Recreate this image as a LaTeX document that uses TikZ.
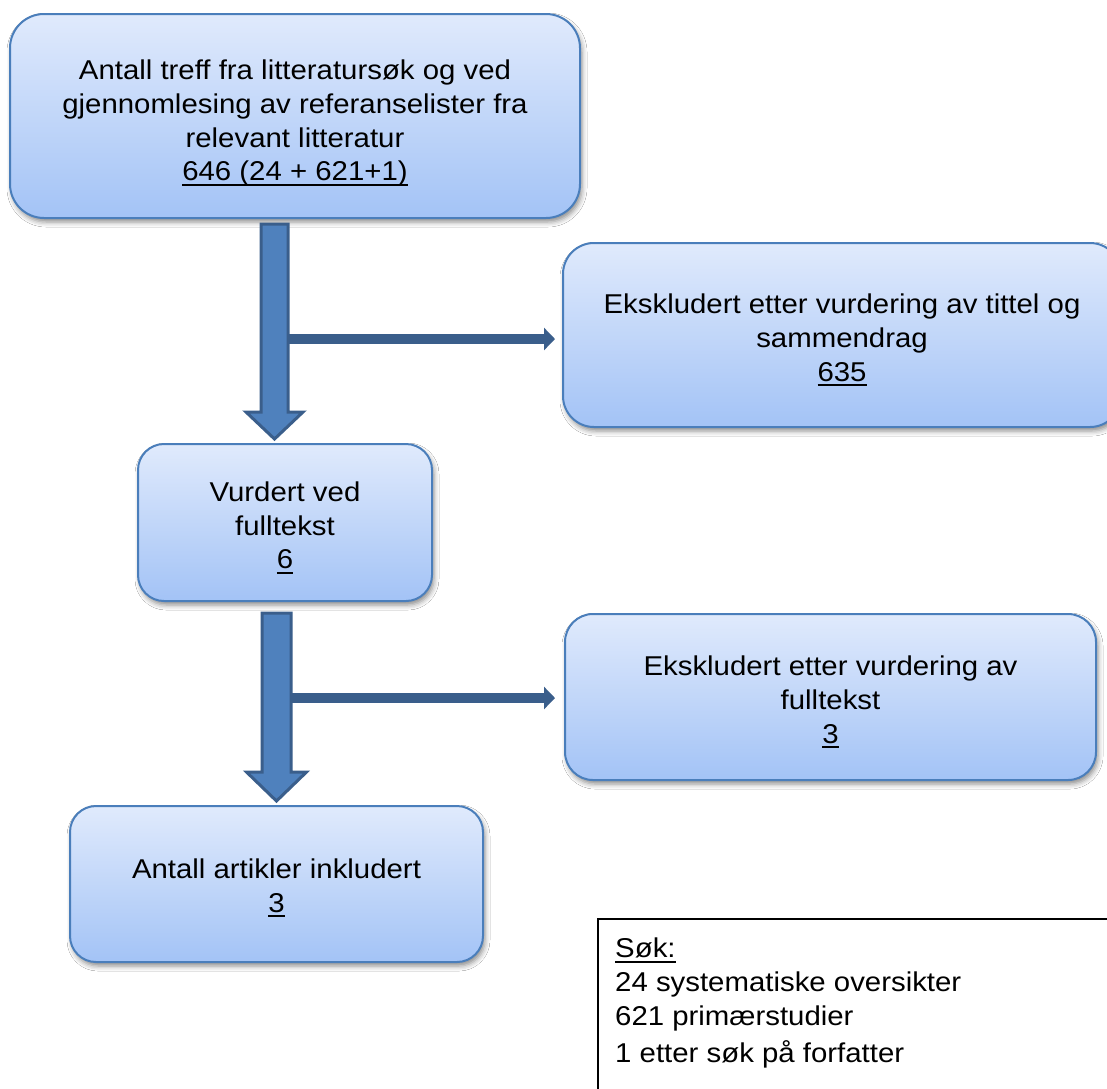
\documentclass[tikz,border=0pt]{standalone}
\usepackage{fontspec}
\setmainfont{Liberation Sans}[FakeStretch=1.08]
\usetikzlibrary{shadows.blur,arrows.meta,calc}
\definecolor{boxtop}{RGB}{224,234,252}
\definecolor{boxbot}{RGB}{163,195,246}
\definecolor{boxline}{RGB}{74,126,187}
\definecolor{arrfill}{RGB}{79,129,189}
\definecolor{arrline}{RGB}{58,94,139}
\newcommand\myul[1]{\setbox0\hbox{#1}\rlap{\rule[-5pt]{\wd0}{2.2pt}}\box0}
\newcommand\topgap[1]{\rule{0pt}{#1}}
\begin{document}
\begin{tikzpicture}[x=1pt,y=-1pt,
  flowbox/.style={draw=boxline, line width=2pt, top color=boxtop, bottom color=boxbot,
    align=center, inner sep=0pt, font=\fontsize{27.2}{33.7}\selectfont,
    blur shadow={shadow xshift=2pt, shadow yshift=-4pt, shadow blur radius=5pt, shadow opacity=45}},
  bigarrow/.style={fill=arrfill, draw=arrline, line width=3pt, line join=miter},
  sidearrow/.style={draw=arrline, line width=10pt, -{Triangle[length=11pt,width=22pt]}},
  infoframe/.style={draw=black, line width=1.5pt, fill=white, inner sep=0pt},
  infotext/.style={align=left, inner sep=0pt, font=\fontsize{27.2}{33.7}\selectfont}
]
\useasboundingbox[fill=white] (0,0) rectangle (1107,1088);

\node[flowbox, minimum width=570pt, minimum height=204pt, rounded corners=34pt] (b1) at (295,116)
  {\topgap{34pt}Antall treff fra litteratursøk og ved\\gjennomlesing av referanselister fra\\relevant litteratur\\\myul{646 (24 + 621+1)}};
\node[flowbox, minimum width=558pt, minimum height=184pt, rounded corners=31pt] (b2) at (842,335)
  {\topgap{30pt}Ekskludert etter vurdering av tittel og\\sammendrag\\\myul{635}};
\node[flowbox, minimum width=294pt, minimum height=157pt, rounded corners=26pt] (b3) at (285,522.5)
  {\topgap{30pt}Vurdert ved\\fulltekst\\\myul{6}};
\node[flowbox, minimum width=531pt, minimum height=166pt, rounded corners=28pt] (b4) at (830.5,697)
  {\topgap{30pt}Ekskludert etter vurdering av\\fulltekst\\\myul{3}};
\node[flowbox, minimum width=413pt, minimum height=156pt, rounded corners=26pt] (b5) at (276.5,884)
  {\topgap{28pt}Antall artikler inkludert\\\myul{3}};

\node[infoframe, anchor=north west, minimum width=540pt, minimum height=200pt] (info) at (597,918) {};
\node[infotext, anchor=north west] (infotxt) at ($(info.north west)+(18,20)$)
  {\myul{Søk:}\\24 systematiske oversikter\\621 primærstudier\\[3pt]1 etter søk på forfatter};

% first step
\coordinate (a1s) at ($(b1.south)+(-20.5,5)$);
\coordinate (a1e) at ($(b3.north)+(-10.5,-4)$);
\coordinate (j1) at ($(a1s)+(0,115)$);
\draw[sidearrow, shorten >=7pt] (j1) -- (j1 -| b2.west);
\draw[bigarrow] ($(a1s)+(-13.5,0)$) -- ($(a1s)+(13.5,0)$) -- ($(a1e)+(13.5,-27)$)
  -- ($(a1e)+(28.5,-27)$) -- (a1e) -- ($(a1e)+(-28.5,-27)$) -- ($(a1e)+(-13.5,-27)$) -- cycle;

% second step
\coordinate (a2s) at ($(b3.south)+(-8.5,11)$);
\coordinate (a2e) at ($(b5.north)+(0,-4)$);
\coordinate (j2) at ($(a2s)+(0,85)$);
\draw[sidearrow, shorten >=9pt] (j2) -- (j2 -| b4.west);
\draw[bigarrow] ($(a2s)+(-14.5,0)$) -- ($(a2s)+(14.5,0)$) -- ($(a2e)+(14.5,-29)$)
  -- ($(a2e)+(30,-29)$) -- (a2e) -- ($(a2e)+(-30,-29)$) -- ($(a2e)+(-14.5,-29)$) -- cycle;
\end{tikzpicture}
\end{document}
